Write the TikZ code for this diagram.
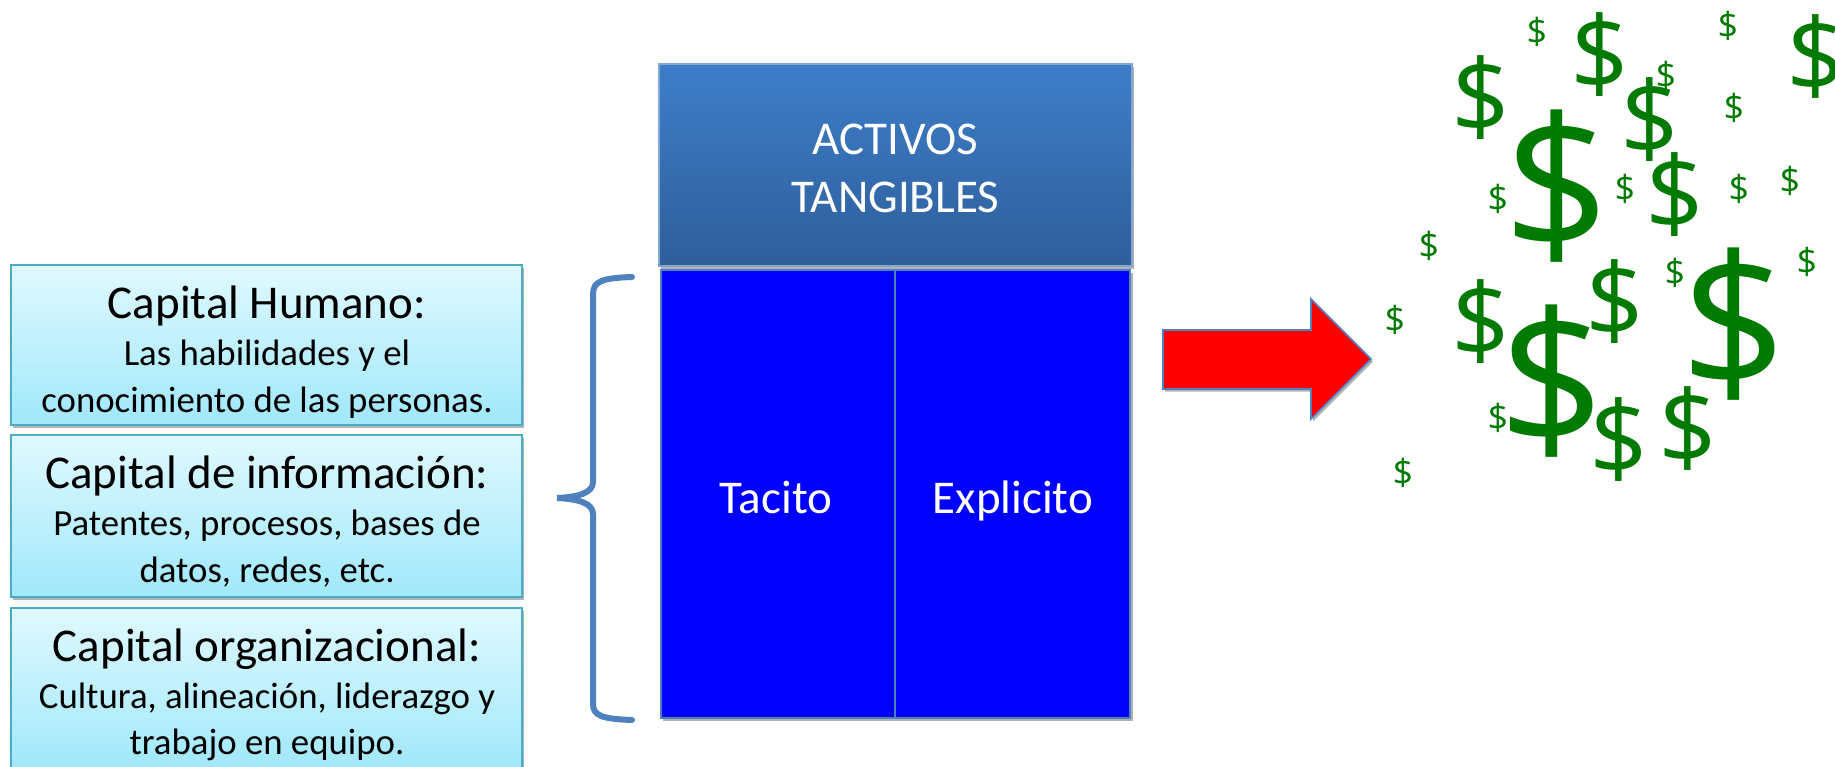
\documentclass[tikz,border=0pt]{standalone}
\usepackage{fontspec}
\setmainfont{Carlito}
\newfontfamily\cashfont{Open Sans}
\usetikzlibrary{shadows}
\definecolor{capborder}{RGB}{75,172,198}
\definecolor{captop}{RGB}{224,249,255}
\definecolor{capbot}{RGB}{160,232,250}
\definecolor{tantop}{RGB}{61,126,201}
\definecolor{tanbot}{RGB}{47,94,154}
\definecolor{accentblue}{RGB}{79,129,189}
\definecolor{cellblue}{RGB}{0,0,255}
\definecolor{cashgreen}{RGB}{0,122,0}
\tikzset{
  softshadow/.style={drop shadow={shadow xshift=1.5pt,shadow yshift=-2pt,opacity=0.3,fill=black}},
  capbox/.style={rectangle, draw=capborder, line width=1.5pt, top color=captop, bottom color=capbot,
    minimum width=383.25pt, inner sep=0pt, softshadow},
  headtxt/.style={anchor=base, inner sep=0pt, font=\fontsize{35.25pt}{42pt}\selectfont},
  bodytxt/.style={anchor=base, inner sep=0pt, font=\fontsize{27.6pt}{33pt}\selectfont},
  tanbox/.style={rectangle, draw=accentblue!70!white, line width=0.8pt, top color=tantop, bottom color=tanbot,
    minimum width=354.75pt, minimum height=151.5pt, inner sep=0pt, softshadow},
  cellbox/.style={rectangle, draw=accentblue, line width=1pt, fill=cellblue,
    minimum height=336pt, inner sep=0pt},
  whitetxt/.style={anchor=base, inner sep=0pt, text=white, font=\fontsize{35.25pt}{42pt}\selectfont},
  cashS/.style={inner sep=0pt, text=cashgreen, font=\cashfont\fontsize{27pt}{30pt}\selectfont},
  cashM/.style={inner sep=0pt, text=cashgreen, font=\cashfont\fontsize{77pt}{80pt}\selectfont},
  cashL/.style={inner sep=0pt, text=cashgreen, font=\cashfont\fontsize{140pt}{142pt}\selectfont},
  bracestyle/.style={draw=accentblue, line width=4.5pt, line cap=round},
  bigarrow/.style={fill=red, draw=accentblue, line width=1.2pt, line join=miter, softshadow}
}
\begin{document}
\begin{tikzpicture}[x=0.75pt,y=-0.75pt]
\useasboundingbox (0,0) rectangle (1835,767);

% left boxes
\node[capbox, minimum height=120pt] (hum) at (266.5,345) {};
\node[capbox, minimum height=121.5pt] (inf) at (266.5,516) {};
\node[capbox, minimum height=121.5pt] (org) at (266.5,689) {};

\node[headtxt] (humh) at (267,318) {Capital Humano:};
\node[bodytxt] (hum1) at (267,365) {Las habilidades y el};
\node[bodytxt] (hum2) at (267,412) {conocimiento de las personas.};

\node[headtxt] (infh) at (267,488) {Capital de información:};
\node[bodytxt] (inf1) at (267,535) {Patentes, procesos, bases de};
\node[bodytxt] (inf2) at (267,582) {datos, redes, etc.};

\node[headtxt] (orgh) at (267,661) {Capital organizacional:};
\node[bodytxt] (org1) at (267,708) {Cultura, alineación, liderazgo y};
\node[bodytxt] (org2) at (267,754) {trabajo en equipo.};

% brace
\coordinate (brtop) at (632,277);
\coordinate (brtip) at (557,498);
\coordinate (brbot) at (632,720);
\draw[bracestyle] (brtop) .. controls (603,278) and (593,281) .. (593,294)
  -- (593,482) .. controls (593,493) and (578,497) .. (brtip)
  .. controls (578,499) and (593,503) .. (593,514)
  -- (593,704) .. controls (593,716) and (603,719) .. (brbot);

% centre boxes
\node[tanbox] (tan) at (895.5,165) {};
\node[whitetxt] (tan1) at (895.5,154) {ACTIVOS};
\node[whitetxt] (tan2) at (895.5,212) {TANGIBLES};

\fill[black, opacity=0.3] (663,273) rectangle (1133,721);
\node[cellbox, minimum width=175.5pt] (tac) at (778,494) {};
\node[cellbox, minimum width=176.25pt] (exp) at (1012.5,494) {};
\node[whitetxt] (tact) at (776,513) {Tacito};
\node[whitetxt] (expt) at (1013,513) {Explicito};

% arrow
\path[bigarrow] (1163,330) -- (1311,330) -- (1311,299) -- (1371,359) -- (1311,419) -- (1311,389) -- (1163,389) -- cycle;

% dollars
\node[cashS] (d1) at (1537,32) {\$};
\node[cashM] (d2) at (1600,55) {\$};
\node[cashS] (d3) at (1728,26) {\$};
\node[cashM] (d4) at (1816,57) {\$};
\node[cashM] (d5) at (1481,98) {\$};
\node[cashM] (d7) at (1650,120) {\$};
\node[cashS] (d6) at (1666,76) {\$};
\node[cashS] (d8) at (1734,108) {\$};
\node[cashL] (d9) at (1557,186) {\$};
\node[cashS] (d10) at (1498,199) {\$};
\node[cashS] (d11) at (1625,189) {\$};
\node[cashM] (d12) at (1675,195) {\$};
\node[cashS] (d13) at (1739,189) {\$};
\node[cashS] (d14) at (1790,181) {\$};
\node[cashS] (d15) at (1429,246) {\$};
\node[cashS] (d16) at (1807,262) {\$};
\node[cashS] (d17) at (1675,273) {\$};
\node[cashM] (d18) at (1615,302) {\$};
\node[cashL] (d19) at (1734,324) {\$};
\node[cashM] (d20) at (1481,322) {\$};
\node[cashS] (d21) at (1395,320) {\$};
\node[cashL] (d22) at (1552,381) {\$};
\node[cashS] (d23) at (1498,418) {\$};
\node[cashM] (d24) at (1619,440) {\$};
\node[cashM] (d25) at (1688,429) {\$};
\node[cashS] (d26) at (1403,473) {\$};
\end{tikzpicture}
\end{document}
